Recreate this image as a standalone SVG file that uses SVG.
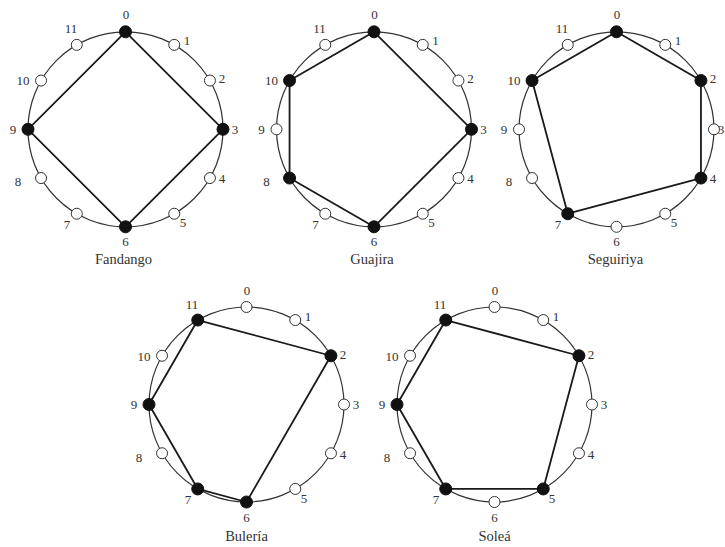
<svg xmlns="http://www.w3.org/2000/svg" width="725" height="547" viewBox="0 0 725 547">
<style>
.ring{fill:none;stroke:#333;stroke-width:1.2}
.edge{stroke:#1a1a1a;stroke-width:1.8;stroke-linecap:round}
.on circle{fill:#111;stroke:#111;stroke-width:1}
.off circle{fill:#fff;stroke:#333;stroke-width:1}
text{font-family:"Liberation Serif","Times New Roman",serif;fill:#333;text-anchor:middle}
.num{font-size:13px}
.title{font-size:14.5px}
</style>
<rect width="725" height="547" fill="#fff"/>

<!-- Fandango -->
<g id="fandango" transform="translate(125.5,129.3)">
<circle class="ring" r="97.5"/>
<g id="fandango-edges">
<line class="edge" x1="0" y1="-97.5" x2="97.5" y2="0"/>
<line class="edge" x1="97.5" y1="0" x2="0" y2="97.5"/>
<line class="edge" x1="0" y1="97.5" x2="-97.5" y2="0"/>
<line class="edge" x1="-97.5" y1="0" x2="0" y2="-97.5"/>
</g>
<g id="fandango-n0" class="on"><circle cx="0" cy="-97.5" r="6"/><text class="num" x="0.5" y="-110">0</text></g>
<g id="fandango-n1" class="off"><circle cx="48.75" cy="-84.44" r="5.5"/><text class="num" x="61.5" y="-84">1</text></g>
<g id="fandango-n2" class="off"><circle cx="84.44" cy="-48.75" r="5.5"/><text class="num" x="96.5" y="-46">2</text></g>
<g id="fandango-n3" class="on"><circle cx="97.5" cy="0" r="6"/><text class="num" x="109.5" y="4.5">3</text></g>
<g id="fandango-n4" class="off"><circle cx="84.44" cy="48.75" r="5.5"/><text class="num" x="96.5" y="54">4</text></g>
<g id="fandango-n5" class="off"><circle cx="48.75" cy="84.44" r="5.5"/><text class="num" x="57.5" y="98">5</text></g>
<g id="fandango-n6" class="on"><circle cx="0" cy="97.5" r="6"/><text class="num" x="0" y="117">6</text></g>
<g id="fandango-n7" class="off"><circle cx="-48.75" cy="84.44" r="5.5"/><text class="num" x="-58.5" y="99.5">7</text></g>
<g id="fandango-n8" class="off"><circle cx="-84.44" cy="48.75" r="5.5"/><text class="num" x="-107.5" y="57">8</text></g>
<g id="fandango-n9" class="on"><circle cx="-97.5" cy="0" r="6"/><text class="num" x="-112.5" y="4.5">9</text></g>
<g id="fandango-n10" class="off"><circle cx="-84.44" cy="-48.75" r="5.5"/><text class="num" x="-102.5" y="-44">10</text></g>
<g id="fandango-n11" class="off"><circle cx="-48.75" cy="-84.44" r="5.5"/><text class="num" x="-54.5" y="-96">11</text></g>
<text class="title" x="-2" y="135">Fandango</text>
</g>

<!-- Guajira -->
<g id="guajira" transform="translate(374,129.3)">
<circle class="ring" r="97.5"/>
<g id="guajira-edges">
<line class="edge" x1="0" y1="-97.5" x2="97.5" y2="0"/>
<line class="edge" x1="97.5" y1="0" x2="0" y2="97.5"/>
<line class="edge" x1="0" y1="97.5" x2="-84.44" y2="48.75"/>
<line class="edge" x1="-84.44" y1="48.75" x2="-84.44" y2="-48.75"/>
<line class="edge" x1="-84.44" y1="-48.75" x2="0" y2="-97.5"/>
</g>
<g id="guajira-n0" class="on"><circle cx="0" cy="-97.5" r="6"/><text class="num" x="0.5" y="-110">0</text></g>
<g id="guajira-n1" class="off"><circle cx="48.75" cy="-84.44" r="5.5"/><text class="num" x="61.5" y="-84">1</text></g>
<g id="guajira-n2" class="off"><circle cx="84.44" cy="-48.75" r="5.5"/><text class="num" x="96.5" y="-46">2</text></g>
<g id="guajira-n3" class="on"><circle cx="97.5" cy="0" r="6"/><text class="num" x="109.5" y="4.5">3</text></g>
<g id="guajira-n4" class="off"><circle cx="84.44" cy="48.75" r="5.5"/><text class="num" x="96.5" y="54">4</text></g>
<g id="guajira-n5" class="off"><circle cx="48.75" cy="84.44" r="5.5"/><text class="num" x="57.5" y="98">5</text></g>
<g id="guajira-n6" class="on"><circle cx="0" cy="97.5" r="6"/><text class="num" x="0" y="117">6</text></g>
<g id="guajira-n7" class="off"><circle cx="-48.75" cy="84.44" r="5.5"/><text class="num" x="-58.5" y="99.5">7</text></g>
<g id="guajira-n8" class="on"><circle cx="-84.44" cy="48.75" r="6"/><text class="num" x="-107.5" y="57">8</text></g>
<g id="guajira-n9" class="off"><circle cx="-97.5" cy="0" r="5.5"/><text class="num" x="-112.5" y="4.5">9</text></g>
<g id="guajira-n10" class="on"><circle cx="-84.44" cy="-48.75" r="6"/><text class="num" x="-102.5" y="-44">10</text></g>
<g id="guajira-n11" class="off"><circle cx="-48.75" cy="-84.44" r="5.5"/><text class="num" x="-54.5" y="-96">11</text></g>
<text class="title" x="-2" y="135">Guajira</text>
</g>

<!-- Seguiriya -->
<g id="seguiriya" transform="translate(616.5,129.3)">
<circle class="ring" r="97.5"/>
<g id="seguiriya-edges">
<line class="edge" x1="0" y1="-97.5" x2="84.44" y2="-48.75"/>
<line class="edge" x1="84.44" y1="-48.75" x2="84.44" y2="48.75"/>
<line class="edge" x1="84.44" y1="48.75" x2="-48.75" y2="84.44"/>
<line class="edge" x1="-48.75" y1="84.44" x2="-84.44" y2="-48.75"/>
<line class="edge" x1="-84.44" y1="-48.75" x2="0" y2="-97.5"/>
</g>
<g id="seguiriya-n0" class="on"><circle cx="0" cy="-97.5" r="6"/><text class="num" x="0.5" y="-110">0</text></g>
<g id="seguiriya-n1" class="off"><circle cx="48.75" cy="-84.44" r="5.5"/><text class="num" x="61.5" y="-84">1</text></g>
<g id="seguiriya-n2" class="on"><circle cx="84.44" cy="-48.75" r="6"/><text class="num" x="96.5" y="-46">2</text></g>
<g id="seguiriya-n3" class="off"><circle cx="97.5" cy="0" r="5.5"/><text class="num" x="104.5" y="4.5">3</text></g>
<g id="seguiriya-n4" class="on"><circle cx="84.44" cy="48.75" r="6"/><text class="num" x="96.5" y="54">4</text></g>
<g id="seguiriya-n5" class="off"><circle cx="48.75" cy="84.44" r="5.5"/><text class="num" x="57.5" y="98">5</text></g>
<g id="seguiriya-n6" class="off"><circle cx="0" cy="97.5" r="5.5"/><text class="num" x="0" y="117">6</text></g>
<g id="seguiriya-n7" class="on"><circle cx="-48.75" cy="84.44" r="6"/><text class="num" x="-58.5" y="99.5">7</text></g>
<g id="seguiriya-n8" class="off"><circle cx="-84.44" cy="48.75" r="5.5"/><text class="num" x="-107.5" y="57">8</text></g>
<g id="seguiriya-n9" class="off"><circle cx="-97.5" cy="0" r="5.5"/><text class="num" x="-112.5" y="4.5">9</text></g>
<g id="seguiriya-n10" class="on"><circle cx="-84.44" cy="-48.75" r="6"/><text class="num" x="-102.5" y="-44">10</text></g>
<g id="seguiriya-n11" class="off"><circle cx="-48.75" cy="-84.44" r="5.5"/><text class="num" x="-54.5" y="-96">11</text></g>
<text class="title" x="-1" y="135">Seguiriya</text>
</g>

<!-- Buleria -->
<g id="buleria" transform="translate(246.5,404.5)">
<circle class="ring" r="97.5"/>
<g id="buleria-edges">
<line class="edge" x1="-48.75" y1="-84.44" x2="84.44" y2="-48.75"/>
<line class="edge" x1="84.44" y1="-48.75" x2="0" y2="97.5"/>
<line class="edge" x1="0" y1="97.5" x2="-48.75" y2="84.44"/>
<line class="edge" x1="-48.75" y1="84.44" x2="-97.5" y2="0"/>
<line class="edge" x1="-97.5" y1="0" x2="-48.75" y2="-84.44"/>
</g>
<g id="buleria-n0" class="off"><circle cx="0" cy="-97.5" r="5.5"/><text class="num" x="0.5" y="-110">0</text></g>
<g id="buleria-n1" class="off"><circle cx="48.75" cy="-84.44" r="5.5"/><text class="num" x="61.5" y="-84">1</text></g>
<g id="buleria-n2" class="on"><circle cx="84.44" cy="-48.75" r="6"/><text class="num" x="96.5" y="-46">2</text></g>
<g id="buleria-n3" class="off"><circle cx="97.5" cy="0" r="5.5"/><text class="num" x="109.5" y="4.5">3</text></g>
<g id="buleria-n4" class="off"><circle cx="84.44" cy="48.75" r="5.5"/><text class="num" x="96.5" y="54">4</text></g>
<g id="buleria-n5" class="off"><circle cx="48.75" cy="84.44" r="5.5"/><text class="num" x="57.5" y="98">5</text></g>
<g id="buleria-n6" class="on"><circle cx="0" cy="97.5" r="6"/><text class="num" x="0" y="117">6</text></g>
<g id="buleria-n7" class="on"><circle cx="-48.75" cy="84.44" r="6"/><text class="num" x="-58.5" y="99.5">7</text></g>
<g id="buleria-n8" class="off"><circle cx="-84.44" cy="48.75" r="5.5"/><text class="num" x="-107.5" y="57">8</text></g>
<g id="buleria-n9" class="on"><circle cx="-97.5" cy="0" r="6"/><text class="num" x="-112.5" y="4.5">9</text></g>
<g id="buleria-n10" class="off"><circle cx="-84.44" cy="-48.75" r="5.5"/><text class="num" x="-102.5" y="-44">10</text></g>
<g id="buleria-n11" class="on"><circle cx="-48.75" cy="-84.44" r="6"/><text class="num" x="-54.5" y="-96">11</text></g>
<text class="title" x="0" y="136">Bulería</text>
</g>

<!-- Solea -->
<g id="solea" transform="translate(494.5,404.5)">
<circle class="ring" r="97.5"/>
<g id="solea-edges">
<line class="edge" x1="-48.75" y1="-84.44" x2="84.44" y2="-48.75"/>
<line class="edge" x1="84.44" y1="-48.75" x2="48.75" y2="84.44"/>
<line class="edge" x1="48.75" y1="84.44" x2="-48.75" y2="84.44"/>
<line class="edge" x1="-48.75" y1="84.44" x2="-97.5" y2="0"/>
<line class="edge" x1="-97.5" y1="0" x2="-48.75" y2="-84.44"/>
</g>
<g id="solea-n0" class="off"><circle cx="0" cy="-97.5" r="5.5"/><text class="num" x="0.5" y="-110">0</text></g>
<g id="solea-n1" class="off"><circle cx="48.75" cy="-84.44" r="5.5"/><text class="num" x="61.5" y="-84">1</text></g>
<g id="solea-n2" class="on"><circle cx="84.44" cy="-48.75" r="6"/><text class="num" x="96.5" y="-46">2</text></g>
<g id="solea-n3" class="off"><circle cx="97.5" cy="0" r="5.5"/><text class="num" x="109.5" y="4.5">3</text></g>
<g id="solea-n4" class="off"><circle cx="84.44" cy="48.75" r="5.5"/><text class="num" x="96.5" y="54">4</text></g>
<g id="solea-n5" class="on"><circle cx="48.75" cy="84.44" r="6"/><text class="num" x="57.5" y="98">5</text></g>
<g id="solea-n6" class="off"><circle cx="0" cy="97.5" r="5.5"/><text class="num" x="0" y="117">6</text></g>
<g id="solea-n7" class="on"><circle cx="-48.75" cy="84.44" r="6"/><text class="num" x="-58.5" y="99.5">7</text></g>
<g id="solea-n8" class="off"><circle cx="-84.44" cy="48.75" r="5.5"/><text class="num" x="-107.5" y="57">8</text></g>
<g id="solea-n9" class="on"><circle cx="-97.5" cy="0" r="6"/><text class="num" x="-112.5" y="4.5">9</text></g>
<g id="solea-n10" class="off"><circle cx="-84.44" cy="-48.75" r="5.5"/><text class="num" x="-102.5" y="-44">10</text></g>
<g id="solea-n11" class="on"><circle cx="-48.75" cy="-84.44" r="6"/><text class="num" x="-54.5" y="-96">11</text></g>
<text class="title" x="0" y="136">Soleá</text>
</g>
</svg>
